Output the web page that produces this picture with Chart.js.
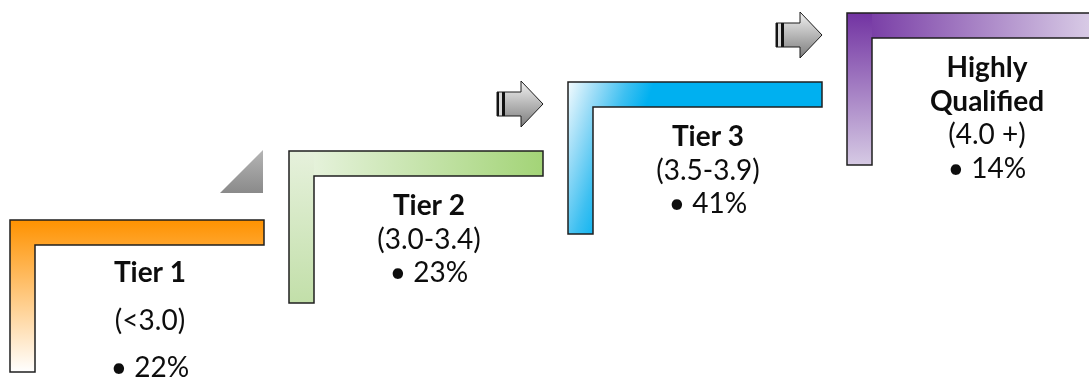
<!DOCTYPE html>
<html>
<head>
<meta charset="utf-8">
<script src="https://cdn.jsdelivr.net/npm/chart.js@4.4.0/dist/chart.umd.min.js"></script>
<style>
  html, body { margin: 0; padding: 0; background: #ffffff; }
  #contenedor { width: 1089px; height: 380px; }
</style>
</head>
<body>
<div id="contenedor"><canvas id="chartEscalera" width="1089" height="380"></canvas></div>
<script>
// Peldaños de la escalera: nombre, rango de promedio y porcentaje
const nombresNivel = [['Tier 1'], ['Tier 2'], ['Tier 3'], ['Highly', 'Qualified']];
const rangosNivel = ['(<3.0)', '(3.0-3.4)', '(3.5-3.9)', '(4.0 +)'];
const porcentajes = [22, 23, 41, 14];
const peldanos = [0, 1, 2, 3];

// Colores de cada "L" (brazo horizontal y poste vertical)
// eje 'x' / 'y' = degradado a lo largo del brazo; 'd' = diagonal desde la esquina
const degradadoAzul = { eje: 'd', fin: [77, 27], paradas: [[0, '#f4fbfe'], [0.35, '#9adcf7'], [0.7, '#3ec0f1'], [1, '#00b0f0']] };
const gradientes = [
    { brazo: { eje: 'y', paradas: [[0, '#ff9200'], [1, '#ffffff']] },
      poste: { eje: 'y', paradas: [[0, '#ff9200'], [1, '#ffffff']] } },
    { brazo: { eje: 'x', paradas: [[0, '#ecf5e5'], [1, '#a3d477']] },
      poste: { eje: 'y', paradas: [[0, '#e6f1dc'], [1, '#c2dfa9']] } },
    { brazo: degradadoAzul, poste: degradadoAzul },
    { brazo: { eje: 'x', paradas: [[0, '#7030a0'], [1, '#ddd2e9']] },
      poste: { eje: 'y', paradas: [[0, '#7233a2'], [1, '#d6cae4']] } }
];
const conectores = [null, 'triangulo', 'flecha', 'flecha'];

const ANCHO = 254, ALTO = 152, GROSOR = 25;
const FUENTE = 'Lato, "Open Sans", sans-serif';
const TAM = 28;

function crearGradiente(ctx, g, x, y) {
    let grad;
    if (g.eje === 'x') grad = ctx.createLinearGradient(x, 0, x + ANCHO, 0);
    else if (g.eje === 'y') grad = ctx.createLinearGradient(0, y, 0, y + ALTO);
    else grad = ctx.createLinearGradient(x, y, x + g.fin[0], y + g.fin[1]);
    g.paradas.forEach(([p, c]) => grad.addColorStop(p, c));
    return grad;
}

function dibujarFlecha(ctx, L, T) {
    const x0 = L - 71, xb = L - 47, xp = L - 25;
    const grad = ctx.createLinearGradient(0, T - 1, 0, T + 45);
    grad.addColorStop(0, '#f2f2f2');
    grad.addColorStop(1, '#7c7c7c');
    ctx.beginPath();
    ctx.moveTo(x0, T + 10);
    ctx.lineTo(xb, T + 10);
    ctx.lineTo(xb, T - 1);
    ctx.lineTo(xp, T + 22);
    ctx.lineTo(xb, T + 45);
    ctx.lineTo(xb, T + 34);
    ctx.lineTo(x0, T + 34);
    ctx.closePath();
    ctx.fillStyle = grad;
    ctx.fill();
    // franjas oscuras de la cola
    ctx.fillStyle = '#111111';
    ctx.fillRect(x0, T + 10, 2, 24);
    ctx.fillRect(x0 + 5, T + 10, 3, 24);
    ctx.fillStyle = '#d9d9d9';
    ctx.fillRect(x0 + 2, T + 10, 3, 24);
    ctx.strokeStyle = '#1a1a1a';
    ctx.lineWidth = 1;
    ctx.stroke();
}

function dibujarTriangulo(ctx, L, T) {
    const grad = ctx.createLinearGradient(0, T - 1, 0, T + 42);
    grad.addColorStop(0, '#b5b5b5');
    grad.addColorStop(1, '#8a8a8a');
    ctx.beginPath();
    ctx.moveTo(L - 69, T + 42);
    ctx.lineTo(L - 26, T - 1);
    ctx.lineTo(L - 26, T + 42);
    ctx.closePath();
    ctx.fillStyle = grad;
    ctx.fill();
}

const escaleraPlugin = {
    id: 'escalera',
    afterDatasetsDraw(chart) {
        const ctx = chart.ctx;
        const meta = chart.getDatasetMeta(0);
        meta.data.forEach((punto, i) => {
            const L = Math.round(punto.x), T = Math.round(punto.y);
            ctx.save();

            if (conectores[i] === 'flecha') dibujarFlecha(ctx, L, T);
            if (conectores[i] === 'triangulo') dibujarTriangulo(ctx, L, T);

            // poste vertical y brazo horizontal de la L
            ctx.fillStyle = crearGradiente(ctx, gradientes[i].poste, L, T);
            ctx.fillRect(L, T, GROSOR, ALTO);
            ctx.fillStyle = crearGradiente(ctx, gradientes[i].brazo, L, T);
            ctx.fillRect(L + GROSOR, T, ANCHO - GROSOR, GROSOR);

            ctx.beginPath();
            ctx.moveTo(L, T);
            ctx.lineTo(L + ANCHO, T);
            ctx.lineTo(L + ANCHO, T + GROSOR);
            ctx.lineTo(L + GROSOR, T + GROSOR);
            ctx.lineTo(L + GROSOR, T + ALTO);
            ctx.lineTo(L, T + ALTO);
            ctx.closePath();
            ctx.strokeStyle = '#1f1f1f';
            ctx.lineWidth = 1.5;
            ctx.stroke();

            // textos del peldaño
            const lineas = nombresNivel[i].map(t => ({ t, bold: true }))
                .concat([{ t: rangosNivel[i], bold: false }, { t: '\u2022 ' + porcentajes[i] + '%', bold: false }]);
            const inicio = i === 0 ? 52 : 54;
            const salto = i === 0 ? 47.5 : 33.5;
            ctx.fillStyle = '#0d0d0d';
            ctx.textAlign = 'center';
            ctx.textBaseline = 'alphabetic';
            lineas.forEach((ln, k) => {
                ctx.font = (ln.bold ? 'bold ' : '') + TAM + 'px ' + FUENTE;
                ctx.fillText(ln.t, L + 140, T + inicio + k * salto + TAM * 0.36);
            });
            ctx.restore();
        });
    }
};

new Chart(document.getElementById('chartEscalera'), {
    type: 'scatter',
    data: {
        datasets: [{
            data: peldanos.map(p => ({ x: p, y: p })),
            pointRadius: 0,
            pointHoverRadius: 0
        }]
    },
    options: {
        responsive: false,
        animation: false,
        layout: { padding: 0 },
        scales: {
            x: { type: 'linear', display: false, min: -10 / 279, max: 1079 / 279 },
            y: { type: 'linear', display: false, min: 220 / 69 - 380 / 69, max: 220 / 69 }
        },
        plugins: { legend: { display: false }, tooltip: { enabled: false } }
    },
    plugins: [escaleraPlugin]
});
</script>
</body>
</html>
